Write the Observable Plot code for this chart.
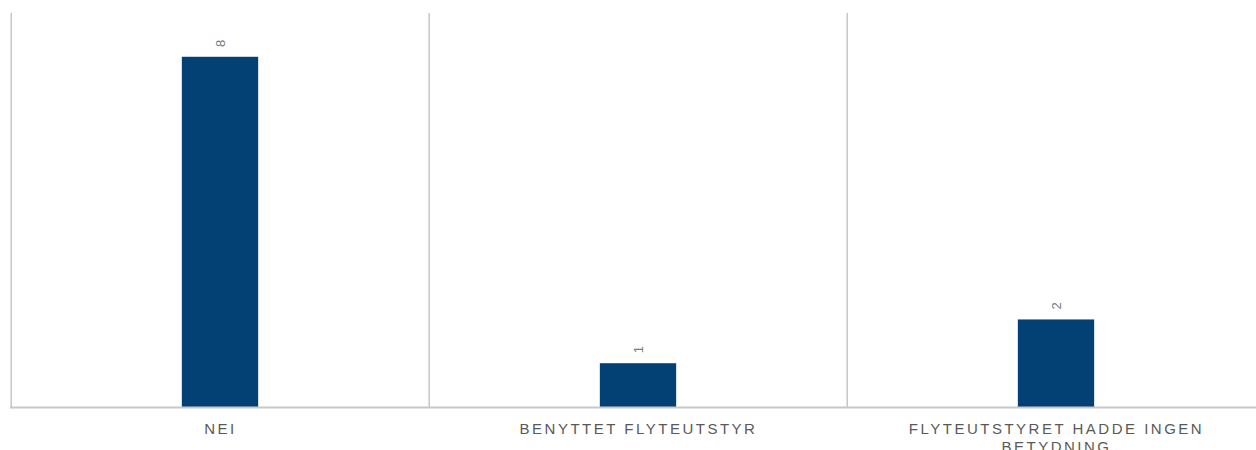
<!DOCTYPE html>
<html>
<head>
<meta charset="utf-8">
<script src="https://cdn.jsdelivr.net/npm/d3@7"></script>
<script src="https://cdn.jsdelivr.net/npm/@observablehq/plot@0.6"></script>
<style>
  html, body { margin: 0; padding: 0; background: #fff; }
  #chart svg { display: block; }
  #chart .cat-axis text { letter-spacing: 2.5px; }
</style>
</head>
<body>
<div id="chart"></div>
<script>
const categories = ["NEI", "BENYTTET FLYTEUTSTYR", "FLYTEUTSTYRET HADDE INGEN BETYDNING"];
const values = [8, 1, 2];
const tickLabels = ["NEI", "BENYTTET FLYTEUTSTYR", "FLYTEUTSTYRET HADDE INGEN\nBETYDNING"];

const data = categories.map((c, i) => ({category: c, value: values[i], label: tickLabels[i]}));

const W = 1256, H = 450;
const xRange = [10, 1266];
const bandW = (xRange[1] - xRange[0]) / categories.length;
const barW = 77;
const inset = (bandW - barW) / 2;

const chart = Plot.plot({
  width: W,
  height: H,
  marginLeft: 10, marginRight: 0, marginTop: 13, marginBottom: 43,
  style: {fontFamily: "'Liberation Sans', Arial, sans-serif", background: "#fff", overflow: "visible"},
  x: {domain: categories, range: xRange, padding: 0, axis: null},
  y: {domain: [0, 9], axis: null},
  marks: [
    Plot.ruleX(categories, {x: d => d, y1: 0, y2: 9, dx: -bandW / 2, stroke: "#b8b8b8", strokeWidth: 1.2}),
    Plot.barY(data, {x: "category", y: "value", fill: "#034174", insetLeft: inset, insetRight: inset}),
    Plot.text(data, {x: "category", y: "value", text: d => String(d.value), rotate: -90, dy: -14, fill: "#7a7a7a", fontSize: 13}),
    Plot.ruleY([0], {stroke: "#c8c8c8", strokeWidth: 2}),
    Plot.axisX({
      anchor: "bottom",
      ticks: categories,
      tickSize: 0,
      tickPadding: 14,
      fontSize: 15,
      fill: "#595959",
      label: null,
      tickFormat: d => tickLabels[categories.indexOf(d)],
      lineHeight: 1.2,
      className: "cat-axis"
    })
  ]
});
document.getElementById("chart").appendChild(chart);
</script>
</body>
</html>
